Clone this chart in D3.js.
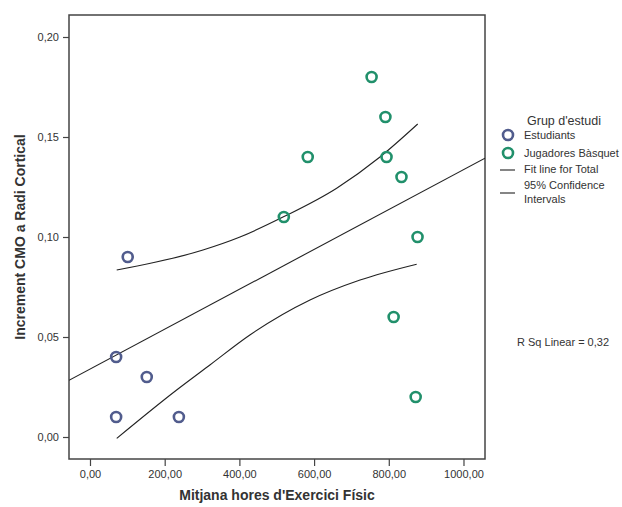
<!DOCTYPE html>
<html>
<head>
<meta charset="utf-8">
<script src="https://cdn.jsdelivr.net/npm/d3@7"></script>
<style>
  html, body { margin: 0; padding: 0; background: #fff; }
  svg { display: block; font-family: "Liberation Sans", Arial, sans-serif; }
</style>
</head>
<body>
<svg id="chart" width="622" height="507"></svg>
<script>
// Hours of physical exercise vs cortical radius BMC increase, by study group
const estudiantsHours = [70, 101, 152, 70, 238];
const estudiantsIncrement = [0.04, 0.09, 0.03, 0.01, 0.01];
const jugadoresHours = [754, 791, 794, 834, 583, 519, 877, 813, 872];
const jugadoresIncrement = [0.18, 0.16, 0.14, 0.13, 0.14, 0.11, 0.10, 0.06, 0.02];
// 95% confidence limits of the fitted mean
const ciUpperHours = [71.5, 302.5, 401.6, 519.4, 660.5, 776.4, 877.4];
const ciUpperValues = [0.0835, 0.0935, 0.100, 0.1102, 0.1244, 0.140, 0.1565];
const ciLowerHours = [71.5, 232, 321, 428, 589, 723, 874.7];
const ciLowerValues = [-0.0007, 0.0235, 0.036, 0.051, 0.0685, 0.0785, 0.0864];
const xTicks = [0, 200, 400, 600, 800, 1000];
const yTicks = [0, 0.05, 0.10, 0.15, 0.20];
const groupNames = ["Estudiants", "Jugadores Bàsquet"];
const groupColors = ["#515c8d", "#21906b"];

const svg = d3.select("#chart");
const frame = { left: 69, top: 15, right: 485, bottom: 459 };

const x = d3.scaleLinear().domain([-56.2, 1057.6]).range([frame.left, frame.right]);
const y = d3.scaleLinear().domain([-0.011, 0.211]).range([frame.bottom, frame.top]);

const fmt = d => d3.format(".2f")(d).replace(".", ",");

// plot frame
svg.append("rect")
  .attr("x", frame.left).attr("y", frame.top)
  .attr("width", frame.right - frame.left).attr("height", frame.bottom - frame.top)
  .attr("fill", "none").attr("stroke", "#444").attr("stroke-width", 1.5);

// axes
const yAxis = svg.append("g")
  .attr("transform", `translate(${frame.left},0)`)
  .call(d3.axisLeft(y).tickValues(yTicks).tickFormat(fmt).tickSize(6).tickSizeOuter(0));
const xAxis = svg.append("g")
  .attr("transform", `translate(0,${frame.bottom})`)
  .call(d3.axisBottom(x).tickValues(xTicks).tickFormat(fmt).tickSize(7).tickSizeOuter(0));
[yAxis, xAxis].forEach(g => {
  g.select(".domain").remove();
  g.selectAll(".tick line").attr("stroke", "#444").attr("stroke-width", 1.2);
  g.selectAll(".tick text").attr("fill", "#333").attr("font-size", 11)
    .attr("font-family", "Liberation Sans, Arial, sans-serif");
});
yAxis.selectAll(".tick text").attr("x", -10);
xAxis.selectAll(".tick text").attr("y", 11);

// axis titles
svg.append("text")
  .attr("x", 277).attr("y", 500).attr("text-anchor", "middle")
  .attr("font-size", 14).attr("font-weight", "bold").attr("fill", "#333")
  .text("Mitjana hores d'Exercici Físic");
svg.append("text")
  .attr("transform", "translate(25,237) rotate(-90)").attr("text-anchor", "middle")
  .attr("font-size", 14).attr("font-weight", "bold").attr("fill", "#333")
  .text("Increment CMO a Radi Cortical");

// linear fit for all cases
const allX = estudiantsHours.concat(jugadoresHours);
const allY = estudiantsIncrement.concat(jugadoresIncrement);
const mx = d3.mean(allX), my = d3.mean(allY);
const sxx = d3.sum(allX, v => (v - mx) ** 2);
const sxy = d3.sum(allX, (v, i) => (v - mx) * (allY[i] - my));
const slope = sxy / sxx;
const intercept = my - slope * mx;

svg.append("clipPath").attr("id", "plotClip").append("rect")
  .attr("x", frame.left).attr("y", frame.top)
  .attr("width", frame.right - frame.left).attr("height", frame.bottom - frame.top);

const straight = d3.line().x(d => x(d[0])).y(d => y(d[1]));
svg.append("path")
  .attr("clip-path", "url(#plotClip)")
  .attr("d", straight(x.domain().map(v => [v, intercept + slope * v])))
  .attr("fill", "none").attr("stroke", "#222").attr("stroke-width", 1.1);

// confidence band curves
const smooth = d3.line().x(d => x(d[0])).y(d => y(d[1])).curve(d3.curveMonotoneX);
[[ciUpperHours, ciUpperValues], [ciLowerHours, ciLowerValues]].forEach(([hs, vs]) => {
  svg.append("path")
    .attr("d", smooth(hs.map((h, i) => [h, vs[i]])))
    .attr("fill", "none").attr("stroke", "#222").attr("stroke-width", 1.1);
});

// points
const groups = [
  { xs: estudiantsHours, ys: estudiantsIncrement, color: groupColors[0] },
  { xs: jugadoresHours, ys: jugadoresIncrement, color: groupColors[1] }
];
groups.forEach(g => {
  svg.append("g").selectAll("circle")
    .data(g.xs.map((v, i) => [v, g.ys[i]]))
    .join("circle")
    .attr("cx", d => x(d[0])).attr("cy", d => y(d[1]))
    .attr("r", 5).attr("fill", "none")
    .attr("stroke", g.color).attr("stroke-width", 2.6);
});

// legend
const lg = svg.append("g").attr("font-size", 11).attr("fill", "#333");
lg.append("text").attr("x", 527).attr("y", 125).attr("font-size", 12.5).attr("fill", "#333").text("Grup d'estudi");
groupNames.forEach((name, i) => {
  const cy = 135 + i * 18;
  lg.append("circle").attr("cx", 508).attr("cy", cy).attr("r", 5)
    .attr("fill", "none").attr("stroke", groupColors[i]).attr("stroke-width", 2.6);
  lg.append("text").attr("x", 524).attr("y", cy + 4).attr("fill", "#333").text(name);
});
lg.append("line").attr("x1", 500).attr("x2", 515).attr("y1", 170).attr("y2", 170)
  .attr("stroke", "#222").attr("stroke-width", 1.1);
lg.append("text").attr("x", 524).attr("y", 173).attr("fill", "#333").text("Fit line for Total");
lg.append("line").attr("x1", 500).attr("x2", 515).attr("y1", 193).attr("y2", 193)
  .attr("stroke", "#222").attr("stroke-width", 1.1);
lg.append("text").attr("x", 524).attr("y", 189).attr("fill", "#333").text("95% Confidence");
lg.append("text").attr("x", 524).attr("y", 203).attr("fill", "#333").text("Intervals");

// R squared annotation
const r2 = (sxy * sxy) / (sxx * d3.sum(allY, v => (v - my) ** 2));
svg.append("text")
  .attr("x", 517).attr("y", 346).attr("font-size", 11).attr("fill", "#333")
  .text("R Sq Linear = " + d3.format(".2f")(r2).replace(".", ","));
</script>
</body>
</html>
